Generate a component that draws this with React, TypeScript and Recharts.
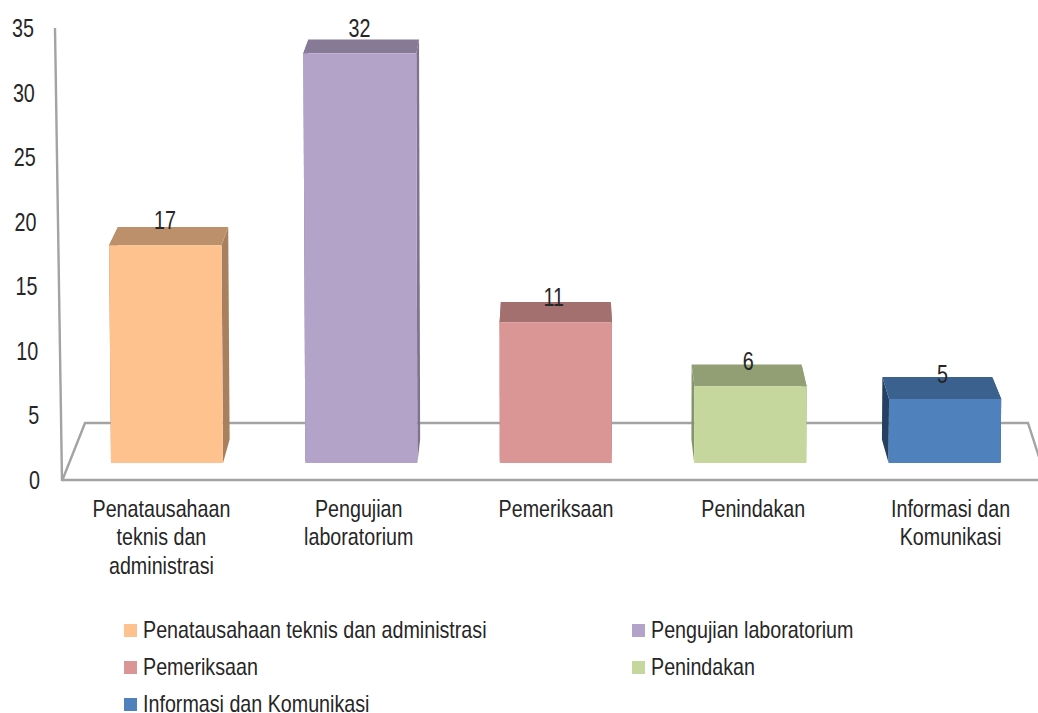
import { ComposedChart, Bar, Line, XAxis, YAxis, LabelList, Customized } from 'recharts';

const categories = [
  'Penatausahaan teknis dan administrasi',
  'Pengujian laboratorium',
  'Pemeriksaan',
  'Penindakan',
  'Informasi dan Komunikasi',
];
const values = [17, 32, 11, 6, 5];
const tickLines = [
  ['Penatausahaan', 'teknis dan', 'administrasi'],
  ['Pengujian', 'laboratorium'],
  ['Pemeriksaan'],
  ['Penindakan'],
  ['Informasi dan', 'Komunikasi'],
];
const yTicks = [0, 5, 10, 15, 20, 25, 30, 35];

const frontColors = ['#FDC28E', '#B4A3C9', '#DA9695', '#C5D79C', '#4F81BD'];
const topColors = ['#BC906A', '#867A96', '#A3706F', '#929F74', '#3B618E'];
const sideColors = ['#A8805E', '#7F7390', '#966766', '#86946B', '#254061'];

// no Arial Narrow here, so Liberation Sans squeezed horizontally
const FONT = '"Liberation Sans", Arial, sans-serif';
const SQUEEZE = 0.82;
const NUM_SQUEEZE = 0.76;
const TEXT = '#262626';
const AXIS = '#A3A3A3';
const VANISH_X = 555;

const data = categories.map((name, i) => ({ name, value: values[i] }));

// fake 3D box, same perspective idea as the excel chart
function Box3D(props: any) {
  const { x, y, width, height, index } = props;
  const x1 = x;
  const x2 = x + width;
  const y2 = y + height;
  const lean = (px: number) => px + (px - VANISH_X) * height * 0.00002;
  const back = (px: number) => px + (VANISH_X - px) * 0.02;
  const depth = (py: number) => (py + 554) * 0.023;
  const tl = lean(x1);
  const tr = lean(x2);
  const d = depth(y);
  const dB = depth(y2);
  return (
    <g>
      <polygon
        points={`${tr},${y} ${back(tr)},${y - d} ${back(x2)},${y2 - dB} ${x2},${y2}`}
        fill={sideColors[index]}
      />
      <polygon
        points={`${tl},${y} ${back(tl)},${y - d} ${back(x1)},${y2 - dB} ${x1},${y2}`}
        fill={sideColors[index]}
      />
      <polygon
        points={`${tl},${y} ${back(tl)},${y - d} ${back(tr)},${y - d} ${tr},${y}`}
        fill={topColors[index]}
      />
      <polygon points={`${tl},${y} ${tr},${y} ${x2},${y2} ${x1},${y2}`} fill={frontColors[index]} />
    </g>
  );
}

function BarValue(props: any) {
  const { x, y, width, value } = props;
  const cx = x + width / 2 - 2;
  return (
    <text
      transform={`translate(${cx},${y - 25}) scale(${NUM_SQUEEZE},1)`}
      textAnchor="middle"
      dominantBaseline="central"
      fontFamily={FONT}
      fontSize={26}
      fill={TEXT}
    >
      {value}
    </text>
  );
}

function CategoryTick(props: any) {
  const { x, index } = props;
  const cx = x + (x - VANISH_X) * 0.0148;
  return (
    <text transform={`translate(${cx},0) scale(${SQUEEZE},1)`} textAnchor="middle" fontFamily={FONT} fontSize={24} fill={TEXT}>
      {tickLines[index].map((line, i) => (
        <tspan key={line} x={0} y={517 + i * 28.5}>
          {line}
        </tspan>
      ))}
    </text>
  );
}

// labels follow the slant of the axis line
function ValueTick(props: any) {
  const { y, payload } = props;
  const right = 34 + (y - 28) * 0.0133;
  return (
    <text
      transform={`translate(${right},${y}) scale(${NUM_SQUEEZE},1)`}
      textAnchor="end"
      dominantBaseline="central"
      fontFamily={FONT}
      fontSize={26}
      fill={TEXT}
    >
      {payload.value}
    </text>
  );
}

// back wall / floor lines
function Floor() {
  return (
    <g fill="none" stroke={AXIS} strokeWidth={2.4}>
      <polyline points="55,28 62,481" />
      <polyline points="62,481 85,423 1028,423 1040,460" />
    </g>
  );
}

function LegendBlock() {
  const cols = [124, 632];
  return (
    <div style={{ position: 'absolute', left: 0, top: 621, width: 1038, height: 92 }}>
      {categories.map((name, i) => (
        <div
          key={name}
          style={{
            position: 'absolute',
            left: cols[i % 2],
            top: Math.floor(i / 2) * 37,
            display: 'flex',
            alignItems: 'center',
            height: 18,
            lineHeight: '18px',
            whiteSpace: 'nowrap',
            fontFamily: FONT,
            fontSize: 24,
            color: TEXT,
          }}
        >
          <span style={{ width: 13, height: 13, marginRight: 6, background: frontColors[i] }} />
          <span style={{ display: 'inline-block', transform: `scaleX(${SQUEEZE})`, transformOrigin: 'left center' }}>{name}</span>
        </div>
      ))}
    </div>
  );
}

export default function App() {
  return (
    <div style={{ position: 'absolute', left: 0, top: 0, width: 1038, height: 713, overflow: 'hidden', background: '#fff' }}>
      <ComposedChart
        width={1060}
        height={713}
        data={data}
        barSize={112}
        margin={{ top: 28, right: 18, bottom: 0, left: 0 }}
      >
        <Customized component={Floor} />
        <XAxis
          dataKey="name"
          interval={0}
          height={233}
          padding={{ left: 8, right: 0 }}
          axisLine={{ stroke: AXIS, strokeWidth: 2.4 }}
          tickLine={false}
          tick={<CategoryTick />}
        />
        <YAxis
          yAxisId="ticks"
          width={62}
          domain={[0, 35]}
          ticks={yTicks}
          axisLine={false}
          tickLine={false}
          tick={<ValueTick />}
        />
        {/* bars sit on the raised floor, so they get their own hidden scale */}
        <YAxis yAxisId="bars" hide domain={[-1.328, 33.98]} allowDataOverflow />
        {/* keeps the tick axis alive, draws nothing */}
        <Line yAxisId="ticks" dataKey="value" stroke="none" dot={false} activeDot={false} isAnimationActive={false} />
        <Bar yAxisId="bars" dataKey="value" isAnimationActive={false} shape={<Box3D />}>
          <LabelList dataKey="value" content={<BarValue />} />
        </Bar>
      </ComposedChart>
      <LegendBlock />
    </div>
  );
}
